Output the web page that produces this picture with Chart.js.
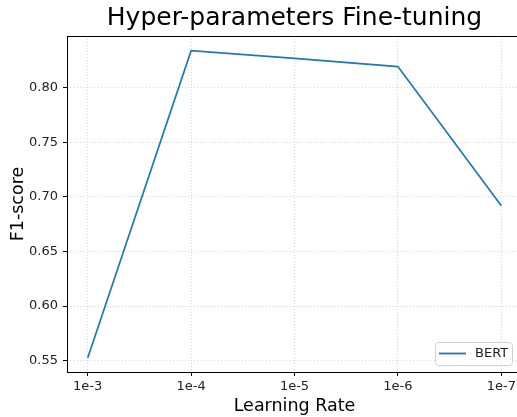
<!DOCTYPE html>
<html>
<head>
  <title>Hyper-parameters Fine-tuning</title>
  <style>
    body { margin: 0; overflow: hidden; background: #fff; }
    #wrap { width: 522px; height: 417px; }
  </style>
</head>
<body>
  <div id="wrap"><canvas id="chart"></canvas></div>

  <script src="https://cdn.jsdelivr.net/npm/chart.js"></script>
  <script>
    const learningRates = ['1e-3', '1e-4', '1e-5', '1e-6', '1e-7'];
    const bertScores = [0.5525, 0.834, 0.827, 0.8195, 0.692];
    const yTicks = [0.55, 0.60, 0.65, 0.70, 0.75, 0.80];

    const font = "'DejaVu Sans', sans-serif";

    // top/right spines and the boxed legend in the lower right corner
    const framePlugin = {
      id: 'frame',
      afterDraw(chart) {
        const { ctx, chartArea: a } = chart;
        ctx.save();
        ctx.strokeStyle = '#000';
        ctx.lineWidth = 1;
        ctx.strokeRect(a.left + 0.5, a.top + 0.5, a.right - a.left, a.bottom - a.top);

        const ds = chart.data.datasets[0];
        const x = a.right - 87, y = a.bottom - 30, w = 77, h = 23;
        ctx.beginPath();
        ctx.roundRect(x + 0.5, y + 0.5, w, h, 3);
        ctx.fillStyle = 'rgba(255,255,255,0.8)';
        ctx.fill();
        ctx.strokeStyle = '#d0d0d0';
        ctx.stroke();
        ctx.beginPath();
        ctx.moveTo(x + 4, y + 11.5);
        ctx.lineTo(x + 31, y + 11.5);
        ctx.strokeStyle = ds.borderColor;
        ctx.lineWidth = 1.8;
        ctx.stroke();
        ctx.fillStyle = '#222';
        ctx.font = '13px ' + font;
        ctx.textBaseline = 'middle';
        ctx.fillText(ds.label, x + 40, y + 12);
        ctx.restore();
      }
    };

    const gridOpts = {
      color: '#d8d8d8',
      tickColor: '#000',
      tickBorderDash: [],
      tickLength: 4
    };

    new Chart(document.getElementById('chart'), {
      type: 'line',
      data: {
        datasets: [{
          label: 'BERT',
          data: bertScores.map((v, i) => ({ x: i, y: v })),
          borderColor: '#1f77b4',
          borderWidth: 1.7,
          pointRadius: 0,
          tension: 0
        }]
      },
      options: {
        responsive: true,
        maintainAspectRatio: false,
        animation: false,
        layout: { padding: { left: 8, right: 0, top: 0, bottom: 0 } },
        plugins: {
          legend: { display: false },
          tooltip: { enabled: false },
          title: {
            display: true,
            fullSize: false,
            text: 'Hyper-parameters Fine-tuning',
            color: '#000',
            font: { family: font, size: 25, weight: 'normal' },
            padding: { top: 3, bottom: 3 }
          }
        },
        scales: {
          x: {
            type: 'linear',
            min: -0.2,
            max: 4.2,
            afterBuildTicks: s => { s.ticks = learningRates.map((_, i) => ({ value: i })); },
            afterFit: s => { s.height = 45; },
            ticks: {
              callback: v => learningRates[v],
              color: '#222',
              font: { family: font, size: 13 },
              padding: 3,
              maxRotation: 0
            },
            grid: gridOpts,
            border: { color: '#000', dash: [1, 2] },
            title: {
              display: true,
              text: 'Learning Rate',
              color: '#000',
              font: { family: font, size: 17.5 },
              padding: { top: 1, bottom: 0 }
            }
          },
          y: {
            min: 0.5396,
            max: 0.8475,
            afterBuildTicks: s => { s.ticks = yTicks.map(v => ({ value: v })); },
            afterFit: s => { s.width = 59; },
            ticks: {
              callback: v => v.toFixed(2),
              color: '#222',
              font: { family: font, size: 13 },
              padding: 5
            },
            grid: gridOpts,
            border: { color: '#000', dash: [1, 2] },
            title: {
              display: true,
              text: 'F1-score',
              color: '#000',
              font: { family: font, size: 17.5 },
              padding: { top: 0, bottom: 2 }
            }
          }
        }
      },
      plugins: [framePlugin]
    });
  </script>
</body>
</html>
